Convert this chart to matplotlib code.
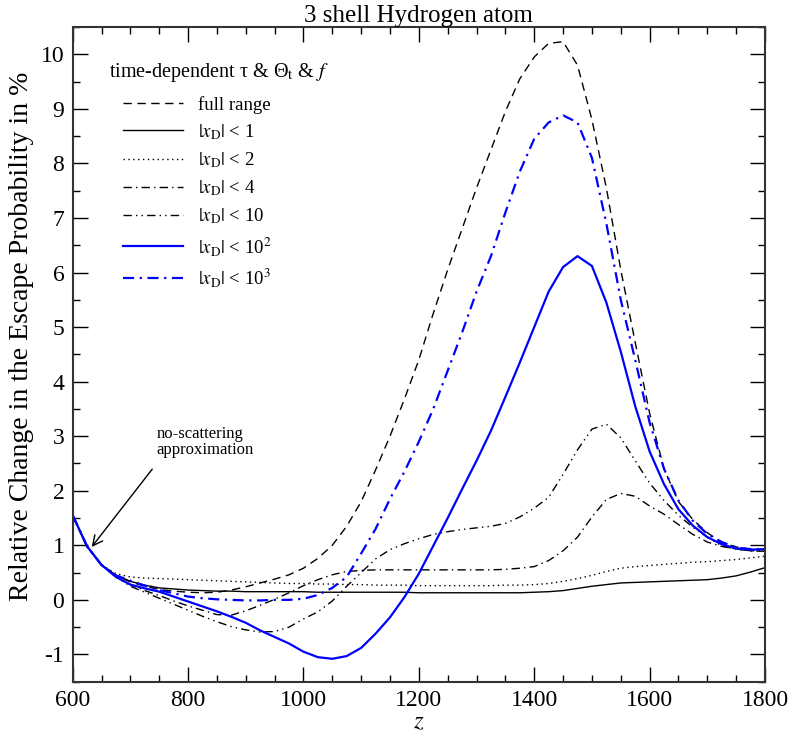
import numpy as np
import matplotlib
matplotlib.use("Agg")
import matplotlib.pyplot as plt
from matplotlib.ticker import MultipleLocator

plt.rcParams['font.family'] = ['Liberation Serif', 'DejaVu Serif']
plt.rcParams['mathtext.fontset'] = 'stix'
plt.rcParams['axes.unicode_minus'] = False

# redshift grid
z = np.arange(600, 1801, 25)

full_range = [1.55, 0.98, 0.64, 0.45, 0.33, 0.25, 0.19, 0.16, 0.14, 0.13, 0.14, 0.18, 0.24,
              0.31, 0.38, 0.46, 0.58, 0.76, 1.00, 1.35, 1.80, 2.38, 3.00, 3.68, 4.40, 5.25, 6.05,
              6.80, 7.55, 8.25, 8.95, 9.55, 9.95,
              10.20, 10.23, 9.80, 8.80, 7.55, 6.05, 4.72, 3.42, 2.40, 1.80, 1.47, 1.23, 1.05,
              0.97, 0.93, 0.92]
xd_1 = [1.55, 0.98, 0.64, 0.45, 0.34, 0.27, 0.22, 0.20, 0.18, 0.17, 0.16, 0.16, 0.15,
        0.15, 0.15, 0.15, 0.15, 0.14, 0.14, 0.14, 0.14, 0.14, 0.14, 0.14, 0.13, 0.13, 0.13,
        0.13, 0.13, 0.13, 0.13, 0.13, 0.14,
        0.15, 0.17, 0.21, 0.25, 0.28, 0.31, 0.32, 0.33, 0.34, 0.35, 0.36, 0.37, 0.40,
        0.44, 0.51, 0.59]
xd_2 = [1.55, 0.98, 0.64, 0.48, 0.42, 0.40, 0.39, 0.38, 0.37, 0.36, 0.35, 0.34, 0.33,
        0.32, 0.31, 0.30, 0.30, 0.29, 0.29, 0.28, 0.28, 0.27, 0.27, 0.27, 0.26, 0.26, 0.26,
        0.26, 0.26, 0.26, 0.27, 0.27, 0.28,
        0.30, 0.34, 0.39, 0.45, 0.52, 0.58, 0.61, 0.63, 0.65, 0.67, 0.69, 0.70, 0.72,
        0.74, 0.77, 0.80]
xd_4 = [1.55, 0.98, 0.64, 0.43, 0.28, 0.17, 0.08, -0.02, -0.11, -0.19, -0.27, -0.28, -0.20,
        -0.10, 0.01, 0.13, 0.26, 0.37, 0.46, 0.52, 0.54, 0.55, 0.55, 0.55, 0.55, 0.55, 0.55,
        0.55, 0.55, 0.55, 0.56, 0.58, 0.61,
        0.72, 0.90, 1.15, 1.52, 1.84, 1.95, 1.90, 1.72, 1.57, 1.38, 1.20, 1.06, 0.98,
        0.93, 0.90, 0.89]
xd_10 = [1.55, 0.98, 0.64, 0.42, 0.25, 0.14, 0.03, -0.08, -0.19, -0.30, -0.40, -0.49, -0.55,
         -0.59, -0.58, -0.50, -0.35, -0.22, -0.02, 0.25, 0.50, 0.75, 0.92, 1.03, 1.12, 1.20, 1.25,
         1.29, 1.32, 1.35, 1.40, 1.52, 1.68,
         1.88, 2.30, 2.75, 3.13, 3.22, 2.97, 2.55, 2.14, 1.82, 1.55, 1.33, 1.15, 0.99,
         0.93, 0.90, 0.90]
xd_1e2 = [1.55, 0.98, 0.64, 0.42, 0.28, 0.21, 0.15, 0.06, -0.03, -0.12, -0.21, -0.31, -0.42,
          -0.56, -0.68, -0.80, -0.95, -1.05, -1.08, -1.03, -0.88, -0.62, -0.32, 0.05, 0.48, 0.99, 1.50,
          2.03, 2.55, 3.10, 3.72, 4.35, 5.00,
          5.65, 6.10, 6.30, 6.12, 5.45, 4.55, 3.55, 2.72, 2.12, 1.66, 1.36, 1.15, 1.02,
          0.94, 0.92, 0.93]
xd_1e3 = [1.55, 0.98, 0.64, 0.45, 0.35, 0.26, 0.18, 0.12, 0.06, 0.03, 0.01, 0.00, -0.01,
          -0.01, 0.00, 0.00, 0.02, 0.09, 0.22, 0.42, 0.85, 1.30, 1.85, 2.35, 2.90, 3.50, 4.20,
          4.90, 5.65, 6.30, 7.10, 7.85, 8.45,
          8.75, 8.88, 8.75, 8.10, 6.90, 5.50, 4.40, 3.25, 2.40, 1.82, 1.45, 1.21, 1.06,
          0.96, 0.93, 0.93]

labels = ['full range', r'$|x_{\rm D}|$ < 1', r'$|x_{\rm D}|$ < 2', r'$|x_{\rm D}|$ < 4',
          r'$|x_{\rm D}|$ < 10', r'$|x_{\rm D}|$ < 10$^2$', r'$|x_{\rm D}|$ < 10$^3$']

fig = plt.figure(figsize=(7.89, 7.35), dpi=100)
ax = fig.add_axes([0.0921, 0.0725, 0.8775, 0.8908])

ax.plot(z, full_range, color='black', lw=1.0, ls=(0, (6, 4)), label=labels[0])
ax.plot(z, xd_1, color='black', lw=1.0, ls='-', label=labels[1])
ax.plot(z, xd_2, color='black', lw=1.0, ls=(0, (1, 2.5)), label=labels[2])
ax.plot(z, xd_4, color='black', lw=1.0, ls=(0, (6, 3, 1, 3)), label=labels[3])
ax.plot(z, xd_10, color='black', lw=1.0, ls=(0, (6, 3, 1, 3, 1, 3)), label=labels[4])
ax.plot(z, xd_1e2, color='#0000ff', lw=1.6, ls='-', label=labels[5])
ax.plot(z, xd_1e3, color='#0000ff', lw=1.6, ls=(0, (5, 2.5, 1, 2.5)), label=labels[6])

ax.set_xlim(600, 1800)
ax.set_ylim(-1.5, 10.5)
ax.xaxis.set_major_locator(MultipleLocator(200))
ax.xaxis.set_minor_locator(MultipleLocator(50))
ax.yaxis.set_major_locator(MultipleLocator(1))
ax.yaxis.set_minor_locator(MultipleLocator(0.5))
ax.tick_params(which='both', direction='in', top=True, right=True, labelsize=17, width=1.0)
ax.tick_params(which='major', length=11, pad=6)
ax.tick_params(which='minor', length=5)
for s in ax.spines.values():
    s.set_linewidth(1.5)
    s.set_color('#333333')

ax.set_xlabel('$z$', fontsize=18, labelpad=0)
ax.set_ylabel('Relative Change in the Escape Probability in %', fontsize=20)
ax.yaxis.set_label_coords(-0.056, 0.528)
ax.set_title('3 shell Hydrogen atom', fontsize=18, pad=3)

ax.text(0.053, 0.93, 'time-dependent τ & Θ$_{\\rm t}$ & $f$', transform=ax.transAxes,
        fontsize=14.5, va='center', ha='left')
ax.legend(loc='upper left', bbox_to_anchor=(0.072, 0.895), frameon=False, fontsize=13.5,
          handlelength=3.2, handletextpad=0.8, labelspacing=0.45, borderpad=0, borderaxespad=0)

ax.annotate('no-scattering\napproximation', xy=(633, 0.97), xytext=(745, 2.9),
            fontsize=12, ha='left', va='center', linespacing=1.0,
            arrowprops=dict(arrowstyle='->', color='black', lw=1.0, shrinkA=8, shrinkB=0,
                            mutation_scale=18, relpos=(0.05, 0.0)))

fig.savefig('out.png', dpi=100)
